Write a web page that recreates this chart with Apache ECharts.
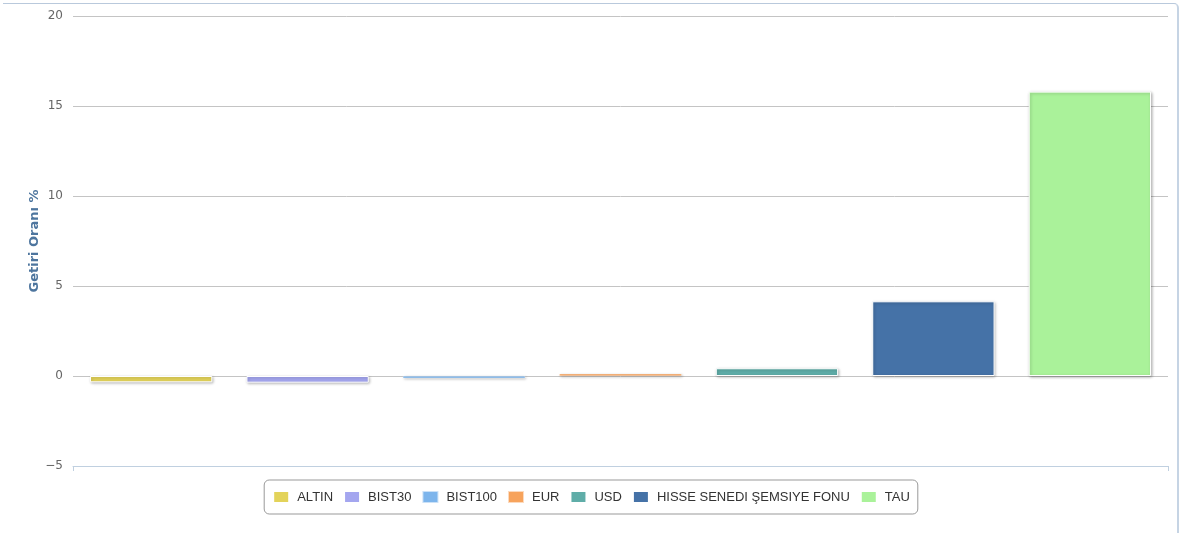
<!DOCTYPE html>
<html>
<head>
<meta charset="utf-8">
<script src="https://cdn.jsdelivr.net/npm/echarts@6/dist/echarts.min.js"></script>
<style>
  html, body { margin: 0; padding: 0; background: #ffffff; }
  #wrap { position: relative; width: 1182px; height: 533px; overflow: hidden; }
  #frame { position: absolute; left: 3px; top: 3px; width: 1176px; height: 600px;
           border-top: 1px solid #b9c9dc; border-right: 2px solid #c6d4e4;
           border-radius: 0 5px 0 0; box-sizing: border-box; }
  #chart { position: absolute; left: 0; top: 0; width: 1182px; height: 533px; }
</style>
</head>
<body>
<div id="wrap">
  <div id="frame"></div>
  <div id="chart"></div>
</div>
<script>
// Series names, values (%) and colours
const seriesNames = ['ALTIN', 'BIST30', 'BIST100', 'EUR', 'USD', 'HISSE SENEDI ŞEMSIYE FONU', 'TAU'];
const seriesValues = [-0.35, -0.37, -0.12, 0.12, 0.43, 4.15, 15.8];
const seriesColors = ['#e3d35a', '#a4a6ef', '#7db5ec', '#f7a35c', '#5fada8', '#4572a7', '#aaf29a'];
const categories = [''];
const yTicks = { min: -5, max: 20, interval: 5 };
const yTitle = 'Getiri Oranı %';

const chart = echarts.init(document.getElementById('chart'), null, { renderer: 'canvas' });

const series = seriesNames.map((name, i) => ({
  name: name,
  type: 'bar',
  data: [seriesValues[i]],
  barGap: '27.9%',
  barCategoryGap: '3.1%',
  itemStyle: {
    color: seriesColors[i],
    borderColor: Math.abs(seriesValues[i]) < 0.2 ? 'rgba(255,255,255,0.6)' : '#ffffff',
    borderWidth: Math.abs(seriesValues[i]) < 0.2 ? 0.5 : 1,
    shadowColor: 'rgba(0,0,0,0.28)',
    shadowBlur: 3,
    shadowOffsetX: 1,
    shadowOffsetY: 1
  },
  emphasis: { disabled: true }
}));

chart.setOption({
  animation: false,
  backgroundColor: 'transparent',
  grid: { left: 73, right: 14, top: 16, bottom: 67, containLabel: false },
  legend: {
    data: seriesNames,
    left: 'center',
    top: 480,
    icon: 'rect',
    itemWidth: 16,
    itemHeight: 12,
    itemGap: 10,
    padding: [10, 8, 10, 8],
    borderColor: '#999999',
    borderWidth: 1,
    borderRadius: 5,
    textStyle: { fontFamily: 'Liberation Sans', fontSize: 13, color: '#333333', padding: [0, 0, 0, 3] },
    selectedMode: false
  },
  xAxis: {
    type: 'category',
    data: categories,
    position: 'bottom',
    axisLine: { onZero: false, lineStyle: { color: '#c0d0e0', width: 1 } },
    axisTick: { show: true, length: 5, lineStyle: { color: '#c0d0e0' } },
    axisLabel: { show: false },
    splitLine: { show: false }
  },
  yAxis: {
    type: 'value',
    min: yTicks.min,
    max: yTicks.max,
    interval: yTicks.interval,
    name: yTitle,
    nameLocation: 'middle',
    nameGap: 38,
    nameMoveOverlap: false,
    nameRotate: 90,
    nameTextStyle: { fontFamily: 'DejaVu Sans', fontSize: 13, fontWeight: 'bold', color: '#4d759e', verticalAlign: 'middle' },
    axisLine: { show: false },
    axisTick: { show: false },
    axisLabel: {
      margin: 10,
      fontFamily: 'DejaVu Sans',
      fontSize: 12,
      color: '#666666',
      formatter: v => (v < 0 ? '\u2212' + Math.abs(v) : String(v))
    },
    splitLine: { lineStyle: { color: '#c4c4c4', width: 1 } }
  },
  series: series
});
</script>
</body>
</html>
